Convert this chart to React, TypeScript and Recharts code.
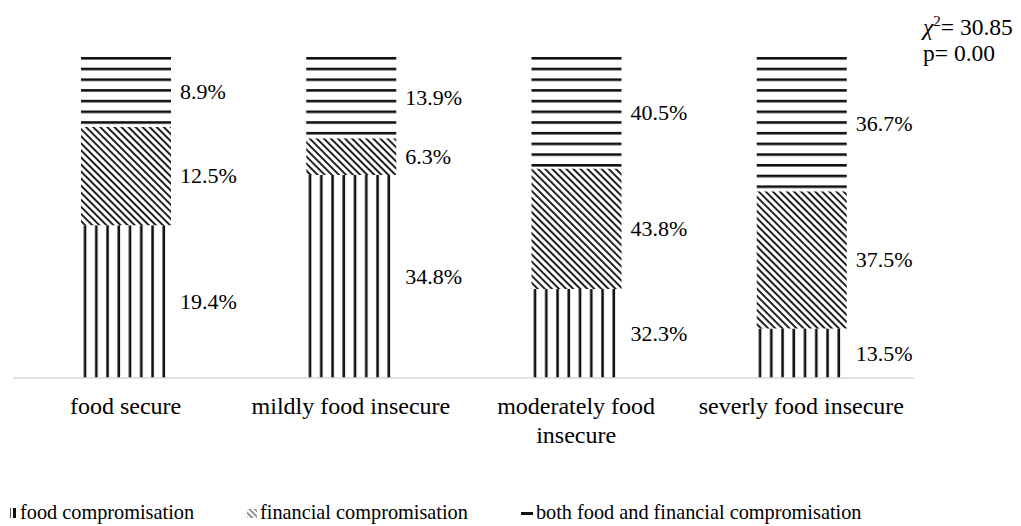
import React from 'react';
import { BarChart, Bar, XAxis, YAxis, LabelList } from 'recharts';

const categories = ['food secure', 'mildly food insecure', 'moderately food insecure', 'severly food insecure'];
const foodCompromisation = [19.4, 34.8, 32.3, 13.5];
const financialCompromisation = [12.5, 6.3, 43.8, 37.5];
const bothCompromisation = [8.9, 13.9, 40.5, 36.7];
const seriesNames = ['food compromisation', 'financial compromisation', 'both food and financial compromisation'];
const chiText = '30.85';
const pText = '0.00';

const data = categories.map((c, i) => ({
  name: c,
  food: foodCompromisation[i],
  financial: financialCompromisation[i],
  both: bothCompromisation[i],
}));

const FONT = '"Liberation Serif", "Times New Roman", Tinos';

let ctx: CanvasRenderingContext2D | null = null;
const measure = (s: string, size: number) => {
  if (!ctx) {
    const c = document.createElement('canvas');
    ctx = c.getContext('2d');
  }
  if (!ctx) return s.length * size * 0.45;
  ctx.font = `${size}px "Liberation Serif"`;
  return ctx.measureText(s).width;
};

const wrap = (s: string, maxW: number, size: number) => {
  const words = s.split(' ');
  const lines: string[] = [];
  let cur = '';
  words.forEach((w) => {
    const t = cur ? cur + ' ' + w : w;
    if (cur && measure(t, size) > maxW) {
      lines.push(cur);
      cur = w;
    } else {
      cur = t;
    }
  });
  if (cur) lines.push(cur);
  return lines;
};

const renderLabel = (props: any) => {
  const { x, y, width, height, value } = props;
  return (
    <text
      x={Number(x) + Number(width) + 9}
      y={Number(y) + Number(height) / 2}
      dy="0.33em"
      textAnchor="start"
      style={{ fontFamily: FONT, fontSize: 22 }}
      fill="#000"
    >
      {`${value}%`}
    </text>
  );
};

const renderTick = (props: any) => {
  const { x, y, payload } = props;
  const lines = wrap(String(payload.value), 222, 24);
  return (
    <text x={x} y={y + 36} textAnchor="middle" style={{ fontFamily: FONT, fontSize: 24 }} fill="#000">
      {lines.map((l, i) => (
        <tspan key={i} x={x} dy={i === 0 ? 0 : 29}>
          {l}
        </tspan>
      ))}
    </text>
  );
};

const Defs = () => (
  <defs>
    <pattern id="pVert" patternUnits="userSpaceOnUse" width={11.25} height={10}>
      <rect x={0} y={0} width={11.25} height={10} fill="#fff" />
      <rect x={5} y={0} width={2.6} height={10} fill="#111" />
    </pattern>
    <pattern id="pDiag" patternUnits="userSpaceOnUse" width={5} height={5} patternTransform="rotate(-45)">
      <rect x={0} y={0} width={5} height={5} fill="#fff" />
      <rect x={0} y={0} width={2} height={5} fill="#222" />
    </pattern>
    <pattern id="pHoriz" patternUnits="userSpaceOnUse" width={10} height={10.7} patternTransform="translate(0,57)">
      <rect x={0} y={0} width={10} height={10.7} fill="#fff" />
      <rect x={0} y={0} width={10} height={2.6} fill="#111" />
    </pattern>
  </defs>
);

const LegendIcon = ({ kind }: { kind: number }) => {
  if (kind === 0) {
    return (
      <svg width={10} height={12} style={{ marginRight: 2 }}>
        <rect x={2} y={1} width={1} height={10} fill="#555" />
        <rect x={5} y={1} width={3} height={10} fill="#111" />
      </svg>
    );
  }
  if (kind === 1) {
    return (
      <svg width={12} height={12} style={{ marginRight: 2 }}>
        <defs>
          <pattern id="pDiagL" patternUnits="userSpaceOnUse" width={4} height={4} patternTransform="rotate(-45)">
            <rect x={0} y={0} width={4} height={4} fill="#fff" />
            <rect x={0} y={0} width={1.5} height={4} fill="#777" />
          </pattern>
        </defs>
        <rect x={1} y={2} width={10} height={9} fill="url(#pDiagL)" />
      </svg>
    );
  }
  return (
    <svg width={14} height={12} style={{ marginRight: 2 }}>
      <rect x={1} y={5} width={12} height={3} fill="#111" />
    </svg>
  );
};

export default function App() {
  return (
    <div style={{ position: 'absolute', left: 0, top: 0, width: 1021, height: 526, background: '#fff', fontFamily: FONT }}>
      <BarChart
        width={1021}
        height={526}
        data={data}
        stackOffset="expand"
        barSize={90}
        margin={{ top: 57, right: 107, bottom: 0, left: 13 }}
        style={{ fontFamily: FONT }}
      >
        <Defs />
        <XAxis
          dataKey="name"
          height={148}
          tickLine={false}
          tickSize={0}
          tickMargin={0}
          axisLine={{ stroke: '#d9d9d9', strokeWidth: 1.5 }}
          tick={renderTick}
          interval={0}
        />
        <YAxis hide domain={[0, 1]} />
        <Bar dataKey="food" stackId="a" fill="url(#pVert)" isAnimationActive={false}>
          <LabelList dataKey="food" content={renderLabel} />
        </Bar>
        <Bar dataKey="financial" stackId="a" fill="url(#pDiag)" isAnimationActive={false}>
          <LabelList dataKey="financial" content={renderLabel} />
        </Bar>
        <Bar dataKey="both" stackId="a" fill="url(#pHoriz)" isAnimationActive={false}>
          <LabelList dataKey="both" content={renderLabel} />
        </Bar>
      </BarChart>
      <div
        style={{
          position: 'absolute',
          left: 923,
          top: 14,
          fontFamily: FONT,
          fontSize: 23.5,
          lineHeight: '26px',
          color: '#000',
          whiteSpace: 'nowrap',
        }}
      >
        <div>
          <i>χ</i>
          <sup style={{ fontSize: 15, verticalAlign: 'top', lineHeight: '14px' }}>2</sup>= {chiText}
        </div>
        <div>p= {pText}</div>
      </div>
      <div
        style={{
          position: 'absolute',
          left: 8,
          top: 501,
          display: 'flex',
          alignItems: 'center',
          fontFamily: FONT,
          fontSize: 20.3,
          color: '#000',
          whiteSpace: 'nowrap',
        }}
      >
        {seriesNames.map((n, i) => (
          <div key={n} style={{ display: 'flex', alignItems: 'center', marginRight: 52 }}>
            <LegendIcon kind={i} />
            <span>{n}</span>
          </div>
        ))}
      </div>
    </div>
  );
}
